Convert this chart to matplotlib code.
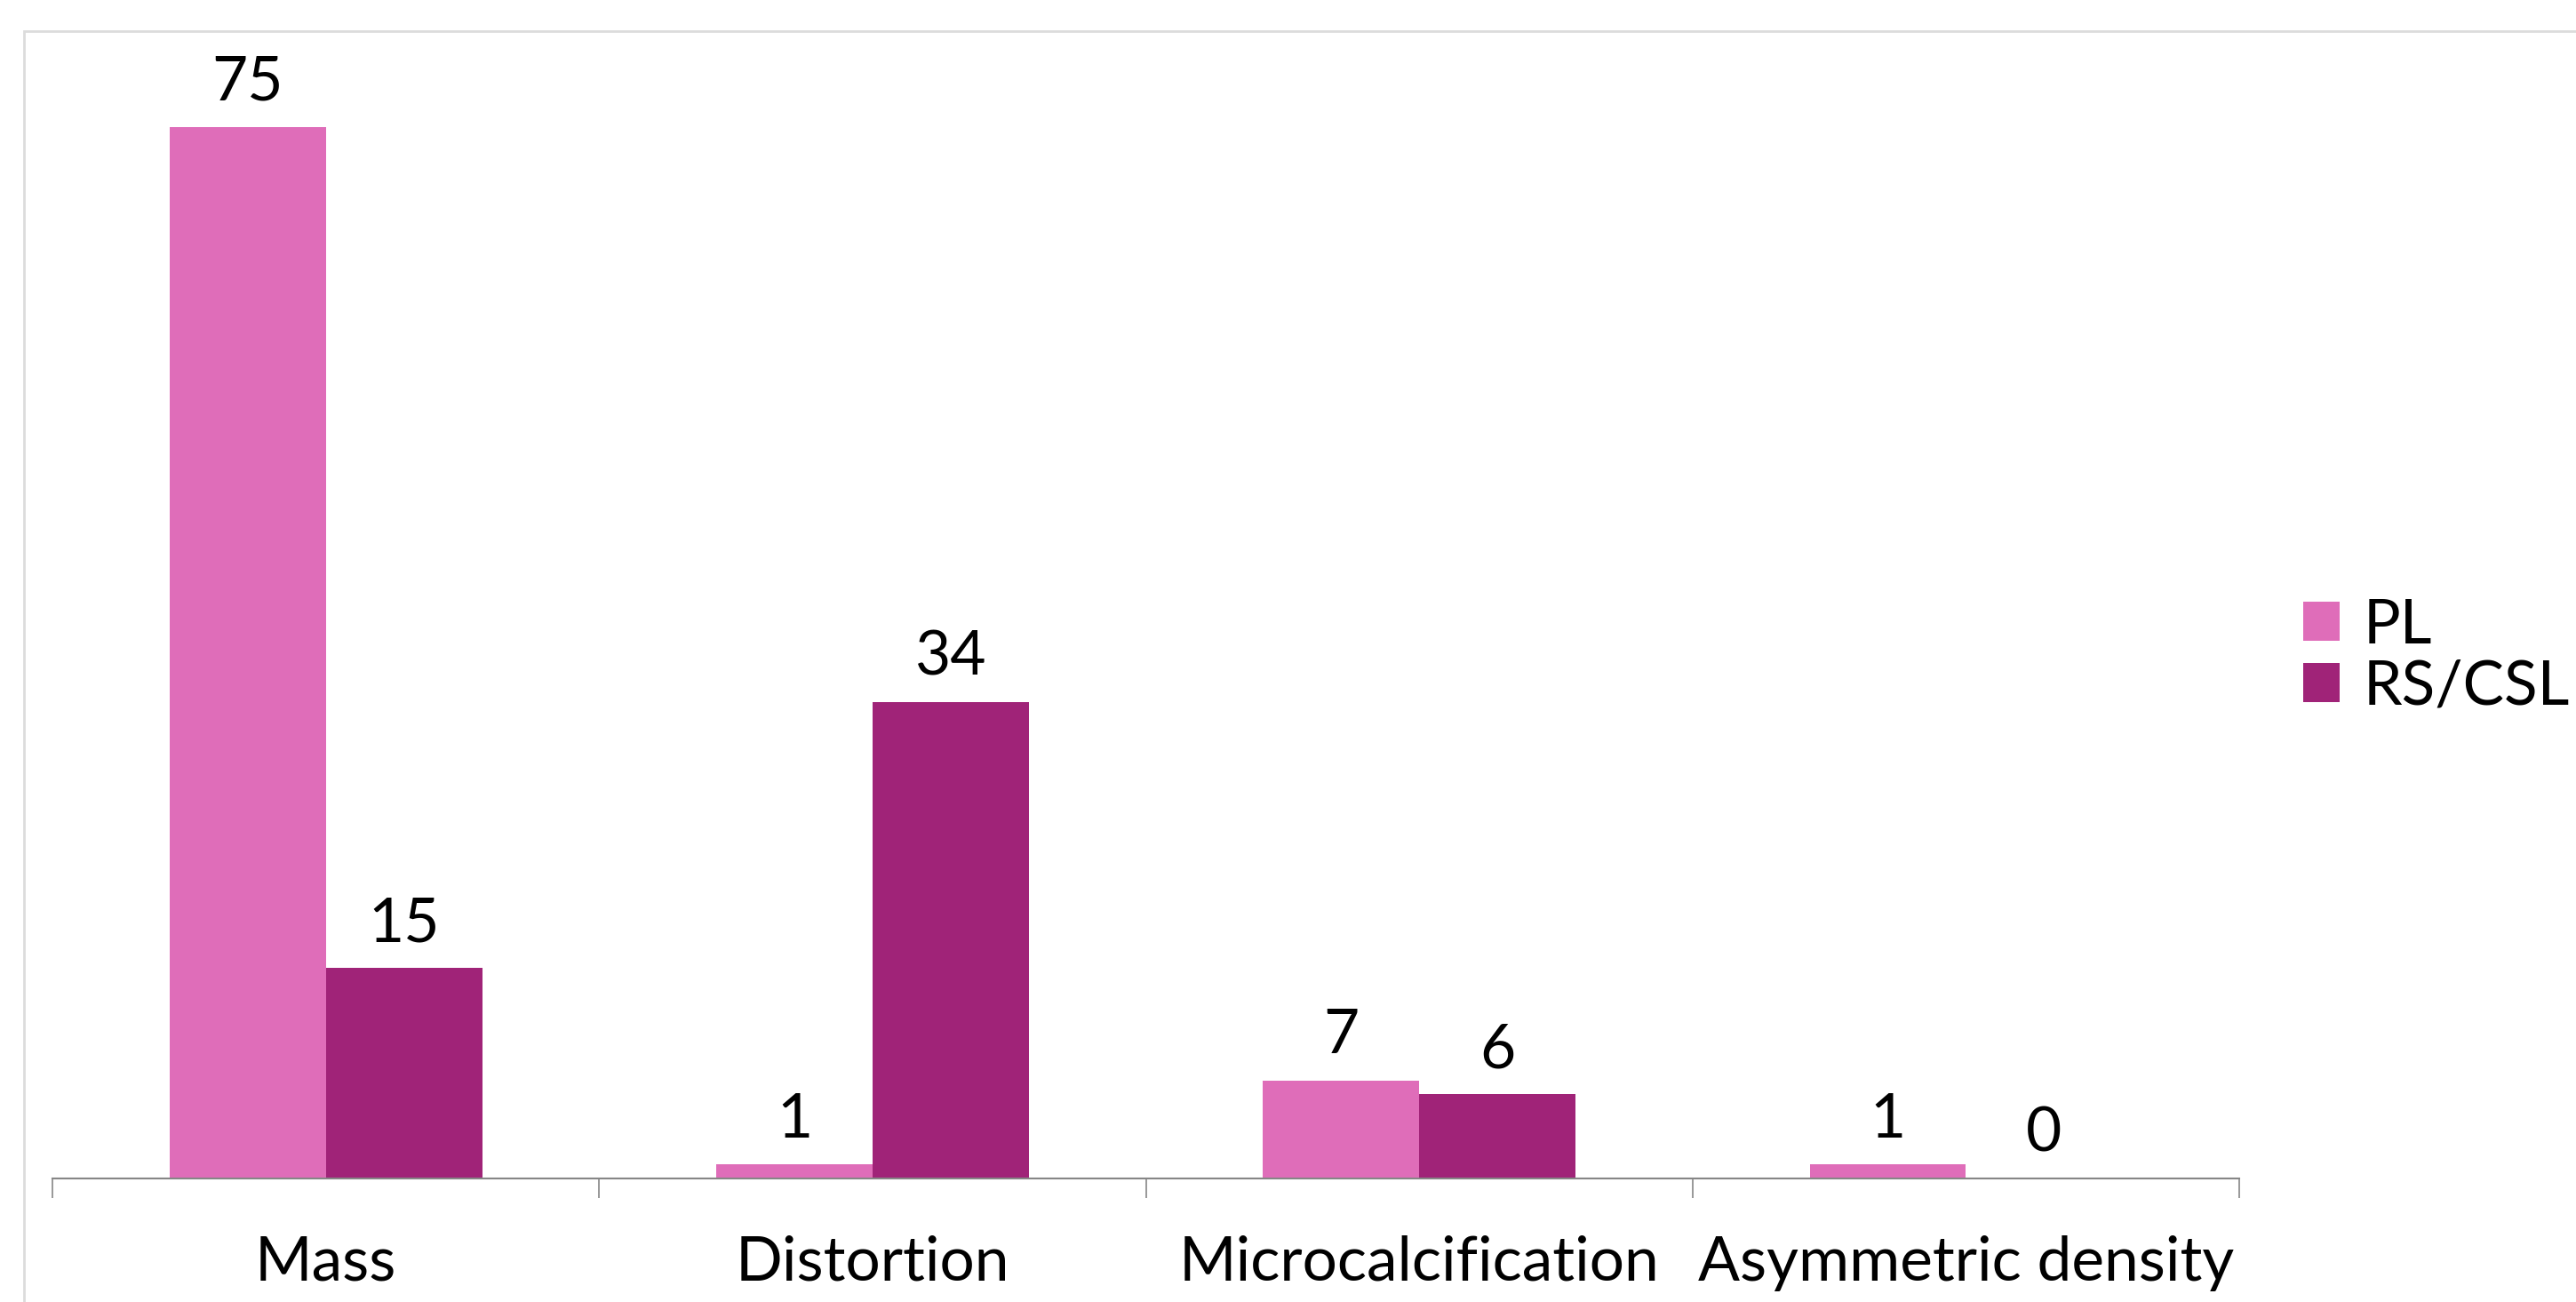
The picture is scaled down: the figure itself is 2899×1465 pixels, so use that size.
import numpy as np
import matplotlib.pyplot as plt
from matplotlib.patches import Rectangle, Patch

categories = ["Mass", "Distortion", "Microcalcification", "Asymmetric density"]
pl_values = [75, 1, 7, 1]
rs_values = [15, 34, 6, 0]
series_names = ["PL", "RS/CSL"]

plt.rcParams["font.family"] = ["Lato", "DejaVu Sans"]

fig = plt.figure(figsize=(28.99, 14.65), dpi=100)
ax = fig.add_axes([0.0204, 0.0949, 0.8489, 0.8614])

# light chart-area frame
fig.patches.append(Rectangle((0.0093, -0.05), 1.0, 1.026, transform=fig.transFigure,
                             fill=False, edgecolor="#dcdcdc", linewidth=2.0, zorder=0))

x = np.arange(len(categories))
w = 1 / 3.5
pl_color = "#df6db9"
rs_color = "#a02378"
bars_pl = ax.bar(x - w / 2, pl_values, width=w, color=pl_color, label=series_names[0])
bars_rs = ax.bar(x + w / 2, rs_values, width=w, color=rs_color, label=series_names[1])

fs = 50
for bars, vals in [(bars_pl, pl_values), (bars_rs, rs_values)]:
    for b, v in zip(bars, vals):
        ax.annotate(f"{v}", (b.get_x() + b.get_width() / 2, v), xytext=(0, 13),
                    textcoords="offset points", ha="center", va="bottom", fontsize=fs)

ax.set_xlim(-0.5, len(categories) - 0.5)
ax.set_ylim(0, 80)
for s in ["top", "right", "left"]:
    ax.spines[s].set_visible(False)
ax.spines["bottom"].set_color("#868686")
ax.spines["bottom"].set_linewidth(1.5)
ax.set_yticks([])

ax.set_xticks(np.arange(len(categories) + 1) - 0.5)
ax.set_xticklabels([])
ax.tick_params(axis="x", which="major", length=16, width=1.2, color="#868686", direction="out")
ax.set_xticks(x, minor=True)
ax.set_xticklabels(categories, minor=True, fontsize=fs)
ax.tick_params(axis="x", which="minor", length=0, pad=46)

handles = [Patch(facecolor=pl_color), Patch(facecolor=rs_color)]
fig.legend(handles, series_names, loc="center left", bbox_to_anchor=(0.882, 0.496),
           fontsize=fs, frameon=False, handlelength=0.6, handleheight=0.6,
           handletextpad=0.38, labelspacing=0.08, borderpad=0)

fig.savefig("out.png", dpi=100, facecolor="white")
